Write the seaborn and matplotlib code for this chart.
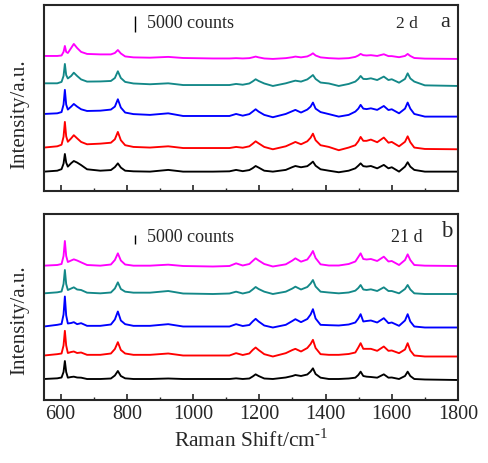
import matplotlib
matplotlib.use("Agg")
import matplotlib.pyplot as plt
from matplotlib.ticker import MultipleLocator
import pandas as pd
import seaborn as sns

# Raman shift sample points (cm-1), shared by all spectra
shift = [550, 590, 603, 609, 613, 617, 622, 632, 640, 650,
         662, 680, 720, 752, 764, 773, 782, 795, 820, 870,
         925, 970, 1060, 1110, 1130, 1150, 1170, 1180, 1189, 1198,
         1215, 1241, 1280, 1300, 1309, 1326, 1345, 1355, 1362, 1370,
         1385, 1410, 1440, 1470, 1490, 1499, 1506, 1514, 1524, 1537,
         1556, 1576, 1590, 1600, 1622, 1640, 1648, 1656, 1668, 1700,
         1800]

# 2 d spectra (counts above own baseline)
d2_black = [0, 300, 800, 2550, 5650, 2900, 1600, 2700, 3400, 2900,
            2100, 750, 300, 500, 1450, 2650, 1300, 300, 100, 0,
            550, 0, 0, 100, 550, 150, 500, 1100, 1800, 1300,
            300, 0, 550, 1450, 1800, 1400, 1750, 2550, 3200, 1900,
            750, 300, -200, 300, 1050, 1900, 2650, 1750, 1600, 1800,
            1050, 2150, 1050, 1400, 0, 1600, 3000, 1600, 550, 0,
            0]
d2_red = [550, 950, 1450, 4000, 8750, 4150, 2400, 3500, 4500, 3500,
          2350, 1600, 1800, 2100, 3200, 5550, 2900, 1300, 750, 550,
          950, 400, 400, 400, 750, 500, 950, 1750, 2550, 1900,
          750, 0, 950, 1900, 2350, 1600, 2550, 3700, 5000, 2900,
          1300, 750, -300, 550, 1300, 2550, 3950, 2700, 2700, 3100,
          2250, 3750, 2100, 2350, 950, 2400, 4150, 2250, 550, 100,
          0]
d2_blue = [850, 1050, 1450, 3850, 8550, 3850, 2250, 3200, 4050, 3200,
           2350, 1800, 1900, 2250, 3200, 5550, 2900, 1300, 800, 550,
           1050, 200, 200, 200, 850, 300, 800, 1600, 2350, 1600,
           550, -200, 850, 1750, 2150, 1300, 2250, 3200, 4500, 2550,
           1450, 800, 0, 550, 1600, 2550, 3750, 2550, 2400, 2650,
           2150, 3400, 2100, 2350, 1050, 2550, 4500, 2550, 850, 0,
           0]
d2_teal = [850, 850, 1300, 3200, 7050, 3500, 2400, 3200, 4250, 3200,
           2100, 1400, 1450, 1600, 2550, 4700, 2550, 1300, 800, 550,
           850, 300, 300, 300, 650, 400, 800, 1450, 2150, 1600,
           800, 0, 850, 1450, 1700, 1400, 2100, 2900, 3500, 2250,
           1100, 800, 0, 650, 1400, 2250, 3200, 2250, 2200, 2450,
           1900, 3000, 1900, 2150, 1050, 2250, 4050, 2400, 1400, 200,
           0]
d2_magenta = [950, 950, 1100, 2250, 4150, 2250, 1900, 3500, 4800, 3500,
              2250, 1600, 1450, 1450, 1900, 2850, 1750, 800, 500, 400,
              650, 300, 150, 150, 250, 150, 250, 500, 750, 500,
              150, 0, 250, 550, 750, 500, 800, 1300, 1800, 1100,
              500, 250, 100, 250, 650, 1100, 1600, 1200, 1100, 1200,
              950, 1500, 900, 900, 550, 950, 1600, 950, 300, 100,
              0]

# 21 d spectra
d21_black = [600, 1000, 1500, 4800, 11400, 4800, 1400, 1800, 2000, 1500,
             1400, 600, 600, 900, 2700, 5400, 2400, 1000, 600, 600,
             900, 600, 600, 600, 1000, 600, 900, 2100, 3400, 2400,
             900, 600, 1500, 2400, 3000, 2400, 3300, 5100, 7000, 3600,
             1400, 600, 600, 900, 1400, 3000, 5000, 2400, 2000, 1800,
             1400, 3400, 1400, 1500, 600, 2400, 5000, 2400, 600, 300,
             0]
d21_red = [600, 1400, 1800, 6600, 15400, 6600, 2100, 2700, 3000, 2100,
           2400, 1000, 1000, 1800, 4500, 8600, 3900, 1800, 1000, 1000,
           1800, 600, 600, 600, 2000, 900, 1800, 3900, 5400, 3900,
           1400, 0, 2000, 3900, 4600, 3000, 5100, 7500, 10000, 5100,
           1400, 1000, 1000, 1500, 2400, 5400, 8000, 4600, 4600, 4600,
           3400, 6000, 3400, 3600, 2000, 4200, 8000, 3600, 600, 0,
           0]
d21_blue = [600, 1600, 2100, 7800, 18600, 7200, 2400, 2700, 3200, 2000,
            2600, 1000, 1000, 1800, 4800, 9600, 4200, 2000, 1000, 1000,
            2000, 600, 600, 600, 2000, 900, 1500, 3600, 5200, 3600,
            1200, 0, 1600, 3900, 5000, 3200, 5100, 7800, 11000, 5400,
            1600, 1400, 1200, 1800, 3000, 5400, 8000, 3600, 3900, 4200,
            3000, 5600, 2600, 3000, 1000, 4200, 8000, 3600, 600, 0,
            0]
d21_teal = [400, 1000, 1500, 6000, 14400, 6000, 2400, 3300, 4000, 2700,
            2400, 800, 400, 900, 3300, 7000, 3000, 1400, 800, 800,
            1800, 300, 0, 300, 1400, 300, 1200, 2700, 4200, 3000,
            1400, 0, 1400, 3300, 4400, 2700, 4200, 6300, 8400, 4500,
            1400, 900, 400, 900, 2000, 3600, 5400, 2700, 2400, 2800,
            1800, 4000, 1800, 1800, 400, 3000, 5400, 2700, 400, 0,
            0]
d21_magenta = [200, 600, 1200, 6000, 15000, 6000, 2400, 3300, 4000, 3300,
               2200, 600, 200, 900, 3600, 7600, 3300, 900, 200, 200,
               800, 0, -300, 0, 1600, 300, 1200, 3000, 4600, 3300,
               1200, -300, 1000, 3300, 4600, 2600, 3900, 6600, 9000, 4800,
               1000, 300, 300, 1200, 2700, 5400, 7600, 4200, 3900, 4200,
               3000, 5600, 2700, 3000, 600, 3600, 7000, 3600, 600, 200,
               0]

traces = ["black", "red", "blue", "teal", "magenta"]
colors = ["#000000", "#ff0000", "#0000ff", "#138888", "#ff00ff"]
d2_offsets = [6100, 13250, 23700, 33500, 42150]
d21_offsets = [12000, 26100, 43500, 63600, 80400]
scale_counts = 5000


def build_df(spectra, offsets):
    rows = []
    for name, spec, off in zip(traces, spectra, offsets):
        for x, y in zip(shift, spec):
            rows.append({"shift": x, "intensity": y + off, "trace": name})
    return pd.DataFrame(rows)


df2 = build_df([d2_black, d2_red, d2_blue, d2_teal, d2_magenta], d2_offsets)
df21 = build_df([d21_black, d21_red, d21_blue, d21_teal, d21_magenta], d21_offsets)

sns.set_style("ticks")
plt.rcParams["font.family"] = ["Liberation Serif", "DejaVu Serif"]
plt.rcParams["mathtext.fontset"] = "custom"
plt.rcParams["mathtext.rm"] = "Liberation Serif"

fig = plt.figure(figsize=(4.88, 4.63), dpi=100)
ax1 = fig.add_axes([44 / 488, 1 - 190.7 / 463, 414 / 488, 185.7 / 463])
ax2 = fig.add_axes([44 / 488, 1 - 400 / 463, 414 / 488, 186 / 463])

panels = [
    (ax1, df2, 59400, 50800),
    (ax2, df21, 111600, 93800),
]
pal = dict(zip(traces, colors))

for ax, df, ytop, bar_y in panels:
    sns.lineplot(data=df, x="shift", y="intensity", hue="trace", palette=pal,
                 estimator=None, sort=False, legend=False, linewidth=1.35, ax=ax)
    ax.set_xlim(550, 1800)
    ax.set_ylim(0, ytop)
    ax.xaxis.set_major_locator(MultipleLocator(200))
    ax.xaxis.set_minor_locator(MultipleLocator(100))
    ax.tick_params(axis="x", which="major", direction="in", length=4, width=1.2,
                   labelsize=14.5, top=False)
    ax.tick_params(axis="x", which="minor", direction="in", length=2, width=1.0, top=False)
    ax.tick_params(axis="y", left=False, labelleft=False)
    for sp in ax.spines.values():
        sp.set_visible(True)
        sp.set_linewidth(1.5)
    ax.set_xlabel("")
    ax.set_ylabel("Intensity/a.u.", fontsize=15)
    # scale bar
    ax.vlines(826, bar_y, bar_y + scale_counts, color="black", linewidth=1.0)

ax1.tick_params(axis="x", labelbottom=False)
ax1.yaxis.set_label_coords(-0.035, 0.41)
ax2.yaxis.set_label_coords(-0.035, 0.43)

ax1.text(0.249, 0.898, "5000 counts", transform=ax1.transAxes, fontsize=13,
         ha="left", va="center")
ax1.text(0.877, 0.898, "2 d", transform=ax1.transAxes, fontsize=12.5,
         ha="center", va="center")
ax1.text(0.969, 0.905, "a", transform=ax1.transAxes, fontsize=16,
         ha="center", va="center")

ax2.text(0.249, 0.876, "5000 counts", transform=ax2.transAxes, fontsize=13,
         ha="left", va="center")
ax2.text(0.877, 0.876, "21 d", transform=ax2.transAxes, fontsize=13,
         ha="center", va="center")
ax2.text(0.973, 0.905, "b", transform=ax2.transAxes, fontsize=16.5,
         ha="center", va="center")

ax2.set_xlabel(r"Raman Shift/cm$^{\text{-1}}$", fontsize=15.5)

fig.savefig("out.png", dpi=100)
